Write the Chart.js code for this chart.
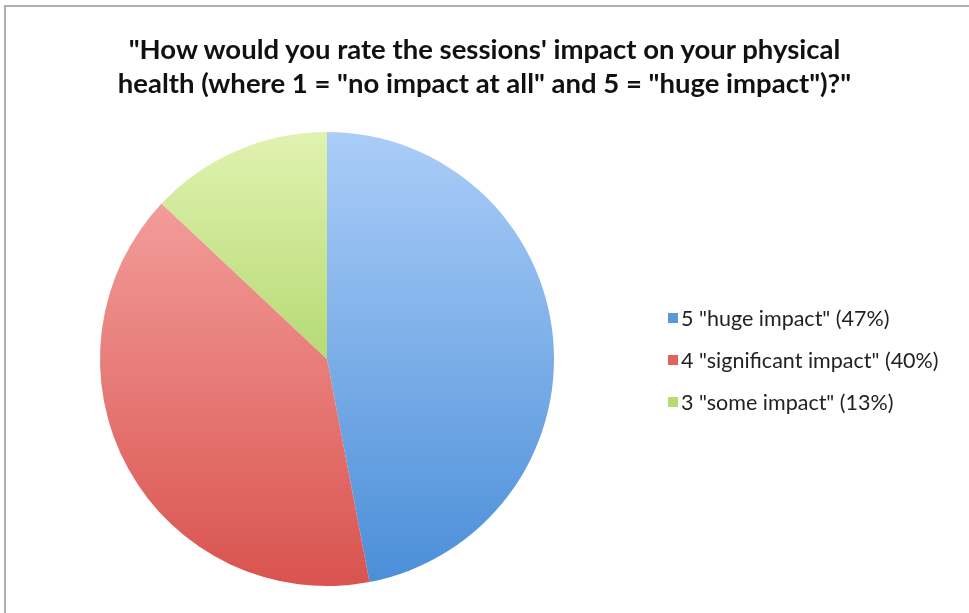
<!DOCTYPE html>
<html>
<head>
<meta charset="utf-8">
<script src="https://cdn.jsdelivr.net/npm/chart.js@4"></script>
<style>
  html, body { margin: 0; padding: 0; background: #fff; }
  #wrap { position: relative; width: 969px; height: 613px; overflow: hidden; }
  #frame { position: absolute; left: 4px; top: 5px; width: 980px; height: 640px;
           border-top: 2px solid #b0b0b0; border-left: 2px solid #b0b0b0; }
  #title { position: absolute; left: 0; top: 32px; width: 969px; text-align: center;
           font-family: Lato, sans-serif; font-weight: bold; font-size: 27.5px; line-height: 34px; color: #111; }
  #legend { position: absolute; left: 668px; top: 297px; font-family: Lato, sans-serif; font-size: 21.5px; color: #222; }
  .item { height: 42px; display: flex; align-items: center; }
  .box { width: 10px; height: 10px; margin-right: 3px; }
  canvas { position: absolute; left: 0; top: 0; }
</style>
</head>
<body>
<div id="wrap">
  <div id="frame"></div>
  <canvas id="pie" width="969" height="613"></canvas>
  <div id="title">"How would you rate the sessions' impact on your physical<br>health (where 1 = "no impact at all" and 5 = "huge impact")?"</div>
  <div id="legend"></div>
</div>
<script>
// chart data
const labels = ['5 "huge impact" (47%)', '4 "significant impact" (40%)', '3 "some impact" (13%)'];
const values = [47, 40, 13];
const topColors = ['#abcdf8', '#f7aaa7', '#e0f2b0'];
const bottomColors = ['#4a8ed8', '#d9534f', '#8cc23a'];
const boxColors = ['#5a98dc', '#e2625e', '#b6dc70'];

function sliceFill(ctx) {
    const area = ctx.chart.chartArea;
    if (!area) return topColors[ctx.dataIndex];
    const g = ctx.chart.ctx.createLinearGradient(0, area.top, 0, area.bottom);
    g.addColorStop(0, topColors[ctx.dataIndex]);
    g.addColorStop(1, bottomColors[ctx.dataIndex]);
    return g;
}

new Chart(document.getElementById('pie').getContext('2d'), {
    type: 'pie',
    data: {
        labels: labels,
        datasets: [{
            data: values,
            backgroundColor: sliceFill,
            borderWidth: 0
        }]
    },
    options: {
        responsive: false,
        animation: false,
        layout: { padding: { left: 100, right: 415, top: 132, bottom: 27 } },
        plugins: {
            legend: { display: false },
            title: { display: false },
            tooltip: { enabled: false }
        }
    }
});

// legend
const legend = document.getElementById('legend');
labels.forEach((label, i) => {
    const row = document.createElement('div');
    row.className = 'item';
    row.innerHTML = `<span class="box" style="background:${boxColors[i]}"></span><span>${label}</span>`;
    legend.appendChild(row);
});
</script>
</body>
</html>
